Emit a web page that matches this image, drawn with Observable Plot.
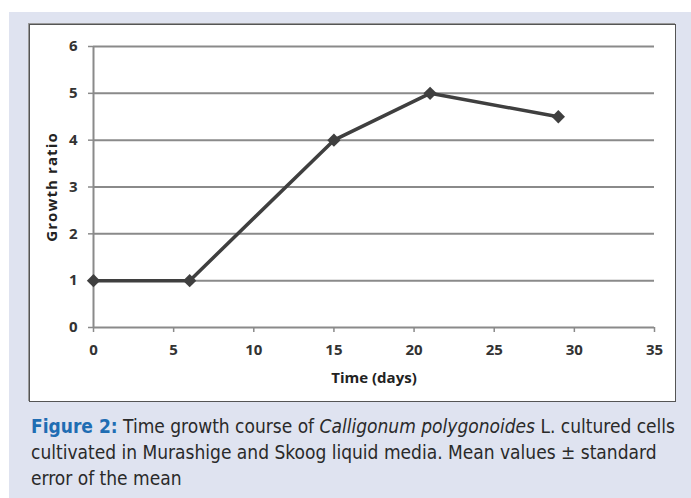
<!DOCTYPE html>
<html>
<head>
<meta charset="utf-8">
<script src="https://cdn.jsdelivr.net/npm/d3@7"></script>
<script src="https://cdn.jsdelivr.net/npm/@observablehq/plot@0.6"></script>
<style>
  html, body { margin: 0; padding: 0; background: #ffffff; width: 691px; height: 498px; overflow: hidden; }
  #bg { position: absolute; left: 9px; top: 12px; width: 682px; height: 486px; background: #dfe3f0; }
  #chart { position: absolute; left: 30px; top: 25px; width: 645px; height: 376px; background: #fff; outline: 1px solid #555; box-shadow: -1px -1px 0 1px #9a9a9a; }
  #chart svg { display: block; }
  #caption { position: absolute; left: 31px; top: 413px; font-family: "DejaVu Sans", sans-serif; font-stretch: condensed; font-size: 20px; line-height: 26px; color: #2a2a2a; white-space: nowrap; transform-origin: 0 0; }
  #caption b { color: #1f6db3; }
</style>
</head>
<body>
<div id="bg"></div>
<div id="chart"></div>
<div id="caption"><span id="l1"><b>Figure 2:</b> Time growth course of <i>Calligonum polygonoides</i> L. cultured cells</span><br>cultivated in Murashige and Skoog liquid media. Mean values ± standard<br>error of the mean</div>
<script>
const days = [0, 6, 15, 21, 29];
const growthRatio = [1, 1, 4, 5, 4.5];
const xTicks = [0, 5, 10, 15, 20, 25, 30, 35];
const yTicks = [0, 1, 2, 3, 4, 5, 6];
const gridLines = [1, 2, 3, 4, 5, 6];
const xLabel = "Time (days)";
const yLabel = "Growth ratio";

const data = days.map((d, i) => ({day: d, ratio: growthRatio[i]}));

const plot = Plot.plot({
  width: 645,
  height: 376,
  marginLeft: 63,
  marginRight: 21,
  marginTop: 21,
  marginBottom: 74,
  style: {fontFamily: "'Open Sans', 'Liberation Sans', sans-serif", fontSize: "15px", fontWeight: "bold", color: "#333", background: "#fff"},
  x: {domain: [0, 35]},
  y: {domain: [0, 6]},
  marks: [
    Plot.ruleY(gridLines, {stroke: "#8a8a8a", strokeWidth: 2, strokeOpacity: 1}),
    Plot.ruleY([0], {stroke: "#8a8a8a", strokeWidth: 2}),
    Plot.ruleX([0], {y1: 0, y2: 6, stroke: "#8a8a8a", strokeWidth: 2}),
    Plot.axisY({ticks: yTicks, tickFormat: "d", tickSize: 5, tickPadding: 11, stroke: "#8a8a8a", strokeWidth: 1.5, strokeOpacity: 1, label: null, fill: "#333", fontSize: 15}),
    Plot.axisX({ticks: xTicks, tickFormat: "d", tickSize: 5, tickPadding: 12, stroke: "#8a8a8a", strokeWidth: 1.5, strokeOpacity: 1, label: null, fill: "#333", fontSize: 15}),
    Plot.text([yLabel], {frameAnchor: "left", dx: -41, rotate: -90, textAnchor: "middle", lineAnchor: "middle", fill: "#222", fontSize: 15, fontWeight: "bold"}),
    Plot.text([xLabel], {frameAnchor: "bottom", dy: 51, textAnchor: "middle", lineAnchor: "middle", fill: "#222", fontSize: 15, fontWeight: "bold"}),
    Plot.line(data, {x: "day", y: "ratio", stroke: "#3f3f3f", strokeWidth: 3.5}),
    Plot.dot(data, {x: "day", y: "ratio", symbol: "diamond2", r: 6, fill: "#3f3f3f", stroke: "none"})
  ]
});
d3.select(plot).selectAll("text").filter(function() { return this.textContent === yLabel; }).style("letter-spacing", "1.1px");
document.getElementById("chart").appendChild(plot);

// fit caption width to the reference line width
const cap = document.getElementById("caption");
const w = document.getElementById("l1").getBoundingClientRect().width;
cap.style.transform = `scaleX(${644 / w})`;
</script>
</body>
</html>
